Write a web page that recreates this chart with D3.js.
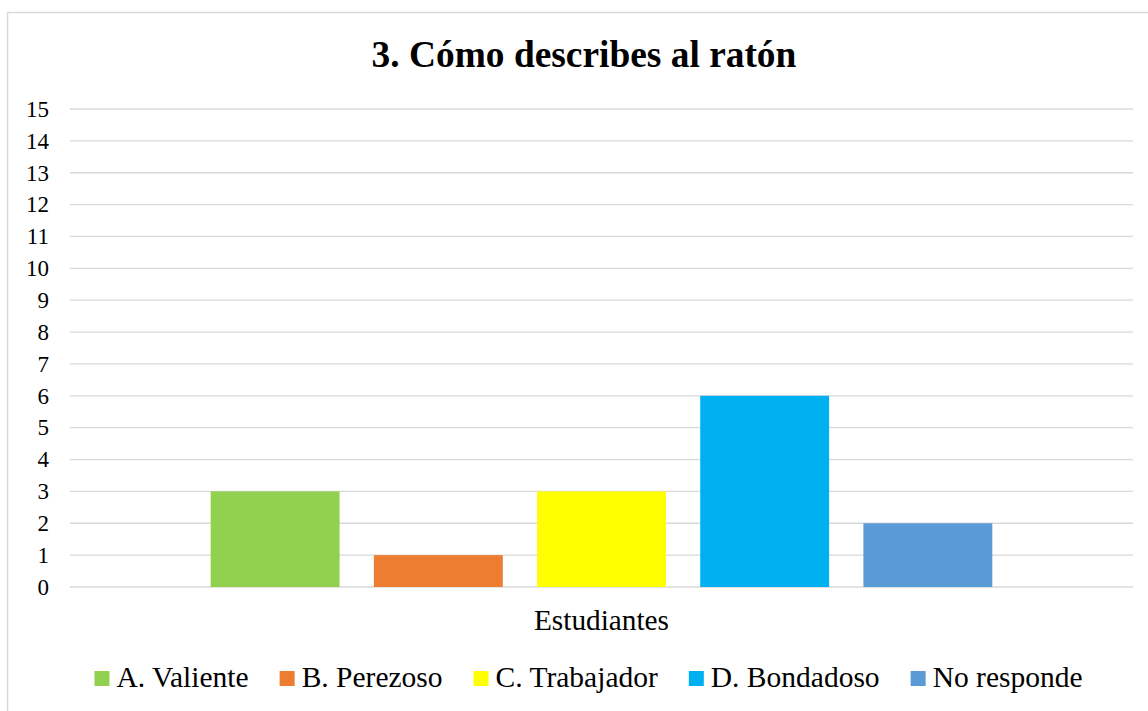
<!DOCTYPE html>
<html>
<head>
<meta charset="utf-8">
<script src="https://cdn.jsdelivr.net/npm/d3@7"></script>
<style>
  html,body{margin:0;padding:0;background:#fff;}
  svg{display:block;font-family:"Liberation Serif","Times New Roman",serif;}
</style>
</head>
<body>
<svg id="chart" width="1148" height="711"></svg>
<script>
/* datos */
var category=['Estudiantes'];
var series=['A. Valiente','B. Perezoso','C. Trabajador','D. Bondadoso','No responde'];
var values=[3,1,3,6,2];
var colors=['#92d050','#ed7d31','#ffff00','#00b0f0','#5b9bd5'];
var yTicks=d3.range(0,16);

var W=1148, H=711;
var ML=70, MR=15, MT=109, MB=124; // área: x 70..1133, y 109..587
var svg=d3.select('#chart');

/* marco del gráfico */
svg.append('rect').attr('x',7.5).attr('y',12.5).attr('width',1160).attr('height',720)
  .attr('fill','#fff').attr('stroke','#d9d9d9').attr('stroke-width',1.5);

var x0=d3.scaleBand().domain(category).range([ML,W-MR]).paddingInner(0).paddingOuter(0.18);
var x1=d3.scaleBand().domain(series).range([0,x0.bandwidth()]).paddingInner(0.21).paddingOuter(0);
var y=d3.scaleLinear().domain([0,15]).range([H-MB,MT]);

/* líneas de división */
svg.append('g').selectAll('line').data(yTicks).enter().append('line')
  .attr('x1',ML).attr('x2',W-MR)
  .attr('y1',function(d){return y(d);}).attr('y2',function(d){return y(d);})
  .attr('stroke','#d9d9d9').attr('stroke-width',1.3);

/* etiquetas eje Y */
svg.append('g').selectAll('text').data(yTicks).enter().append('text')
  .attr('x',49).attr('y',function(d){return y(d);}).attr('dy','0.34em')
  .attr('text-anchor','end').attr('font-size','23px').attr('fill','#000')
  .text(function(d){return d;});

/* barras */
var gBars=svg.append('g').attr('transform','translate('+x0('Estudiantes')+',0)');
gBars.selectAll('rect').data(series).enter().append('rect')
  .attr('x',function(d){return x1(d);})
  .attr('y',function(d,i){return y(values[i]);})
  .attr('width',x1.bandwidth())
  .attr('height',function(d,i){return y(0)-y(values[i]);})
  .attr('fill',function(d,i){return colors[i];});

/* título */
svg.append('text').attr('x',584).attr('y',67).attr('text-anchor','middle')
  .attr('font-size','37.4px').attr('font-weight','bold').attr('fill','#000')
  .text('3. Cómo describes al ratón');

/* título categoría */
svg.append('text').attr('x',x0('Estudiantes')+x0.bandwidth()/2).attr('y',630)
  .attr('text-anchor','middle').attr('font-size','29.3px').attr('fill','#000')
  .text(category[0]);

/* leyenda */
var leg=svg.append('g');
var items=leg.selectAll('g').data(series).enter().append('g');
items.append('rect').attr('width',15).attr('height',15).attr('y',671)
  .attr('fill',function(d,i){return colors[i];});
items.append('text').attr('x',22).attr('y',687).attr('font-size','29.5px').attr('fill','#000')
  .text(function(d){return d;});
var pos=0, offs=[];
items.each(function(){
  var w=d3.select(this).select('text').node().getComputedTextLength();
  offs.push(pos); pos+=22+w+31;
});
var total=pos-31, start=588.5-total/2;
items.attr('transform',function(d,i){return 'translate('+(start+offs[i])+',0)';});
</script>
</body>
</html>
